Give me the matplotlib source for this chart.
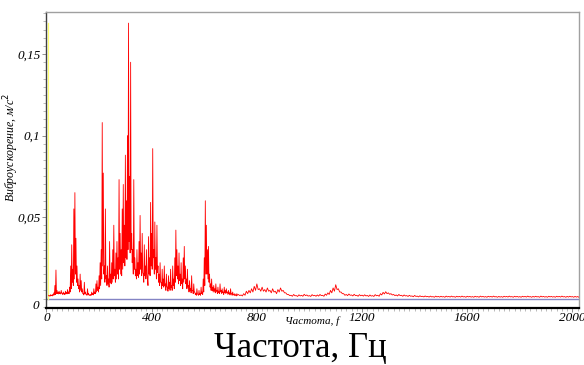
import numpy as np
import matplotlib.pyplot as plt
from matplotlib.ticker import MultipleLocator, FixedLocator

# спектр виброускорения, значения в 1e-3 м/с2
# для каждой полосы: верхняя огибающая (на f) и нижняя (на f + шаг/2)
freq_low = np.arange(8, 728, 4)
accel_low_top = [
    2.0, 1.8, 2.4, 2.0, 2.6, 3.5, 8.0, 17.5, 5.0, 4.0,
    4.5, 3.5, 5.0, 3.2, 4.0, 3.0, 4.5, 3.8, 5.5, 4.0,
    7.0, 20.0, 33.0, 18.0, 55.0, 65.0, 37.0, 20.0, 12.0, 8.0,
    15.0, 11.0, 6.0, 3.0, 10.0, 4.0, 2.5, 6.0, 3.0, 2.2,
    2.5, 4.0, 3.0, 6.0, 4.0, 9.0, 11.0, 7.0, 14.0, 22.0,
    30.0, 108.0, 77.0, 20.0, 55.0, 14.0, 20.0, 12.0, 35.0, 15.0,
    22.0, 30.0, 45.0, 18.0, 28.0, 35.0, 25.0, 73.0, 40.0, 30.0,
    55.0, 70.0, 45.0, 88.0, 60.0, 100.0, 169.0, 75.0, 145.0, 40.0,
    30.0, 73.0, 25.0, 18.0, 30.0, 22.0, 35.0, 51.0, 28.0, 40.0,
    15.0, 33.0, 20.0, 30.0, 12.0, 38.0, 25.0, 59.0, 40.0, 92.0,
    30.0, 47.0, 25.0, 45.0, 20.0, 15.0, 22.0, 10.0, 18.0, 12.0,
    20.0, 9.0, 15.0, 7.0, 14.0, 10.0, 18.0, 8.0, 20.0, 12.0,
    25.0, 42.0, 30.0, 20.0, 28.0, 15.0, 22.0, 12.0, 25.0, 32.0,
    20.0, 12.0, 18.0, 8.0, 11.0, 6.0, 14.0, 5.0, 9.0, 4.0,
    3.0, 6.0, 2.5, 5.0, 3.0, 7.0, 4.0, 12.0, 25.0, 60.0,
    45.0, 30.0, 32.0, 15.0, 9.0, 12.0, 7.0, 8.0, 6.0, 9.0,
    5.0, 7.0, 4.5, 9.0, 5.0, 6.0, 4.0, 7.0, 5.0, 6.0,
    4.0, 5.0, 3.5, 6.0, 3.0, 4.0, 2.5, 3.0, 2.2, 3.0,
]
accel_low_bottom = [
    1.5, 1.5, 1.8, 1.6, 2.0, 2.2, 2.5, 3.0, 3.0, 2.8,
    3.0, 2.8, 3.2, 2.5, 2.8, 2.4, 3.0, 2.8, 3.2, 3.0,
    4.0, 6.0, 10.0, 8.0, 12.0, 15.0, 10.0, 8.0, 6.0, 4.0,
    5.0, 4.0, 3.0, 2.2, 3.0, 2.5, 2.0, 2.5, 2.0, 1.8,
    2.0, 2.5, 2.2, 3.0, 3.0, 4.0, 5.0, 4.0, 6.0, 8.0,
    12.0, 20.0, 15.0, 10.0, 12.0, 8.0, 9.0, 7.0, 10.0, 9.0,
    10.0, 12.0, 14.0, 10.0, 12.0, 15.0, 12.0, 18.0, 15.0, 14.0,
    18.0, 22.0, 20.0, 25.0, 24.0, 30.0, 35.0, 28.0, 30.0, 22.0,
    15.0, 18.0, 14.0, 12.0, 14.0, 13.0, 15.0, 18.0, 14.0, 16.0,
    10.0, 14.0, 12.0, 15.0, 8.0, 15.0, 14.0, 20.0, 18.0, 25.0,
    15.0, 18.0, 12.0, 16.0, 10.0, 8.0, 10.0, 6.0, 8.0, 7.0,
    8.0, 5.0, 7.0, 4.5, 6.0, 5.0, 7.0, 5.0, 8.0, 6.0,
    10.0, 14.0, 12.0, 9.0, 11.0, 8.0, 9.0, 6.0, 10.0, 12.0,
    9.0, 6.0, 7.0, 4.0, 5.0, 3.5, 5.0, 3.0, 4.0, 2.5,
    2.0, 2.8, 2.0, 2.5, 2.0, 3.0, 2.5, 4.0, 8.0, 15.0,
    15.0, 12.0, 10.0, 7.0, 5.0, 5.0, 4.0, 4.5, 3.5, 4.5,
    3.0, 3.5, 3.0, 4.0, 3.0, 3.5, 2.5, 3.5, 3.0, 3.5,
    2.5, 3.0, 2.2, 3.0, 2.0, 2.5, 1.8, 2.0, 1.6, 2.0,
]
freq_high = np.arange(730, 2030, 10)
accel_high_top = [
    2.5, 2.2, 3.0, 4.5, 5.0, 6.0, 7.5, 9.0, 6.0, 7.0,
    5.5, 6.5, 5.0, 6.0, 4.5, 5.5, 6.5, 5.0, 3.5, 2.5,
    2.0, 2.5, 1.8, 2.3, 2.0, 2.6, 2.2, 1.8, 2.4, 2.0,
    2.2, 2.5, 2.0, 2.8, 3.5, 5.0, 6.5, 8.5, 6.0, 4.0,
    3.0, 2.5, 2.8, 2.2, 2.6, 2.0, 2.4, 2.1, 2.3, 1.9,
    2.2, 1.8, 2.4, 2.0, 3.0, 3.8, 4.2, 3.5, 3.0, 2.5,
    2.2, 2.5, 2.0, 2.2, 1.8, 2.0, 1.6, 1.9, 1.5, 1.7,
    1.4, 1.6, 1.3, 1.5, 1.2, 1.5, 1.3, 1.4, 1.2, 1.5,
    1.3, 1.5, 1.2, 1.4, 1.3, 1.5, 1.2, 1.4, 1.3, 1.2,
    1.4, 1.2, 1.5, 1.3, 1.2, 1.4, 1.3, 1.5, 1.2, 1.3,
    1.2, 1.4, 1.3, 1.5, 1.2, 1.4, 1.3, 1.2, 1.4, 1.3,
    1.5, 1.2, 1.3, 1.4, 1.2, 1.5, 1.3, 1.2, 1.4, 1.3,
    1.2, 1.4, 1.3, 1.5, 1.2, 1.3, 1.4, 1.2, 1.3, 1.2,
]
accel_high_bottom = [
    1.8, 1.6, 2.0, 3.0, 3.5, 4.0, 5.0, 5.5, 4.5, 4.5,
    4.0, 4.5, 3.5, 4.0, 3.0, 4.0, 4.5, 3.5, 2.5, 1.8,
    1.4, 1.7, 1.3, 1.6, 1.4, 1.8, 1.5, 1.3, 1.7, 1.4,
    1.5, 1.8, 1.4, 2.0, 2.5, 3.5, 4.5, 5.5, 4.0, 3.0,
    2.0, 1.8, 2.0, 1.6, 1.8, 1.4, 1.7, 1.5, 1.6, 1.3,
    1.5, 1.3, 1.7, 1.4, 2.2, 2.8, 3.0, 2.6, 2.2, 1.8,
    1.6, 1.8, 1.4, 1.6, 1.3, 1.4, 1.1, 1.3, 1.0, 1.2,
    1.0, 1.1, 0.9, 1.0, 0.8, 1.0, 0.9, 1.0, 0.8, 1.0,
    0.9, 1.0, 0.8, 1.0, 0.9, 1.0, 0.8, 1.0, 0.9, 0.8,
    1.0, 0.8, 1.0, 0.9, 0.8, 1.0, 0.9, 1.0, 0.8, 0.9,
    0.8, 1.0, 0.9, 1.0, 0.8, 1.0, 0.9, 0.8, 1.0, 0.9,
    1.0, 0.8, 0.9, 1.0, 0.8, 1.0, 0.9, 0.8, 1.0, 0.9,
    0.8, 1.0, 0.9, 1.0, 0.8, 0.9, 1.0, 0.8, 0.9, 0.8,
]
marker_freq = 7


def interleave(f, step, top, bottom):
    ff = np.empty(2 * len(f))
    vv = np.empty(2 * len(f))
    ff[0::2] = f
    ff[1::2] = f + step / 2
    vv[0::2] = top
    vv[1::2] = bottom
    return ff, vv


f1, v1 = interleave(freq_low, 4, accel_low_top, accel_low_bottom)
f2, v2 = interleave(freq_high, 10, accel_high_top, accel_high_bottom)
freq = np.concatenate([f1, f2])
accel = np.concatenate([v1, v2]) / 1000.0

plt.rcParams['font.family'] = ['Liberation Serif', 'DejaVu Serif']

fig = plt.figure(figsize=(5.84, 3.65), dpi=100)
ax = fig.add_axes([0.0796, 0.1575, 0.9118, 0.8095])

ax.plot([0, freq[-1]], [0, 0], color='#8484c4', linewidth=1.0, zorder=2)
ax.plot([marker_freq, marker_freq], [0, accel.max()], color='#ffff70', linewidth=0.9, zorder=2)
ax.plot(freq, accel, color='#ff0000', linewidth=0.6, zorder=3)

ax.set_xlim(0, 2025)
ax.set_ylim(-0.0055, 0.1758)

ax.xaxis.set_major_locator(FixedLocator([0, 400, 800, 1200, 1600, 2000]))
ax.xaxis.set_minor_locator(MultipleLocator(20))
ax.yaxis.set_major_locator(FixedLocator([0.05, 0.1, 0.15]))
ax.yaxis.set_minor_locator(MultipleLocator(0.005))
ax.set_xticklabels(['0', '400', '800', '1200', '1600', '2000'], fontstyle='italic', fontsize=9.5)
ax.set_yticklabels(['0,05', '0,1', '0,15'], fontstyle='italic', fontsize=9.5)
ax.tick_params(axis='both', which='major', direction='out', length=3, width=0.6, color='#808080', pad=1.5)
ax.tick_params(axis='x', which='major', pad=0.5)
ax.tick_params(axis='both', which='minor', direction='out', length=2, width=0.5, color='#a0a0a0')

ax.text(-0.014, -0.0045, '0', transform=ax.get_yaxis_transform(), ha='right', va='center',
        fontstyle='italic', fontsize=9.5)

for side in ['top', 'right']:
    ax.spines[side].set_color('#a0a0a0')
    ax.spines[side].set_linewidth(1.0)
ax.spines['left'].set_color('#404040')
ax.spines['left'].set_linewidth(1.0)
ax.spines['bottom'].set_color('#000000')
ax.spines['bottom'].set_linewidth(1.6)

ax.set_ylabel('Виброускорение, м/с$^2$', fontstyle='italic', fontsize=8.5)
ax.yaxis.set_label_coords(-0.047, 0.54)
ax.set_xlabel('Частота, f', fontstyle='italic', fontsize=8)
ax.xaxis.set_label_coords(0.4986, -0.03)

fig.text(0.514, 0.044, 'Частота, Гц', ha='center', va='center', fontsize=25)

fig.savefig('out.png', dpi=100)
